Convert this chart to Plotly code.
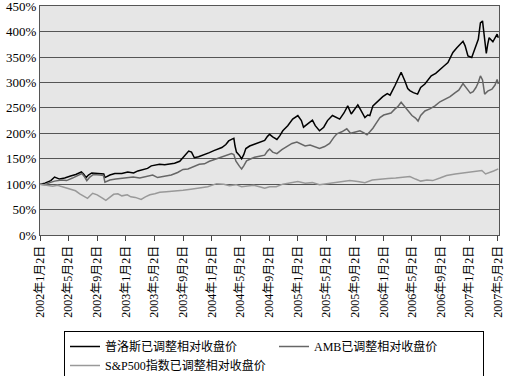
import plotly.graph_objects as go

# 普洛斯 (black)
prologis_dates = ["2002-01-02","2002-01-23","2002-02-17","2002-03-05","2002-03-26","2002-04-17","2002-05-12","2002-06-03","2002-06-27","2002-07-06","2002-07-17","2002-07-27","2002-08-10","2002-09-04","2002-09-30","2002-10-05","2002-10-26","2002-11-16","2002-12-16","2003-01-10","2003-02-04","2003-02-22","2003-03-14","2003-04-04","2003-04-20","2003-05-08","2003-05-25","2003-06-16","2003-07-07","2003-07-28","2003-08-19","2003-09-02","2003-09-14","2003-09-26","2003-10-08","2003-10-20","2003-11-07","2003-12-02","2003-12-23","2004-01-11","2004-01-30","2004-02-14","2004-03-02","2004-03-14","2004-03-26","2004-04-05","2004-04-10","2004-04-16","2004-04-28","2004-05-08","2004-05-17","2004-05-26","2004-06-11","2004-07-02","2004-07-23","2004-08-14","2004-08-26","2004-09-04","2004-09-17","2004-10-05","2004-10-17","2004-10-30","2004-11-20","2004-12-11","2005-01-02","2005-01-17","2005-01-26","2005-02-10","2005-02-23","2005-03-05","2005-03-17","2005-04-04","2005-04-22","2005-05-08","2005-05-29","2005-06-17","2005-06-29","2005-07-17","2005-08-02","2005-08-17","2005-09-02","2005-09-14","2005-09-26","2005-10-14","2005-10-26","2005-11-04","2005-11-17","2005-12-04","2005-12-17","2005-12-29","2006-01-17","2006-01-29","2006-02-19","2006-03-02","2006-03-17","2006-04-02","2006-04-14","2006-04-23","2006-05-08","2006-05-26","2006-06-08","2006-06-26","2006-07-08","2006-07-23","2006-08-11","2006-08-29","2006-09-14","2006-10-02","2006-10-14","2006-10-23","2006-11-08","2006-11-23","2006-12-05","2006-12-14","2006-12-26","2007-01-11","2007-01-26","2007-02-08","2007-02-17","2007-02-26","2007-03-02","2007-03-07","2007-03-14","2007-03-20","2007-03-26","2007-04-11","2007-04-17","2007-04-29","2007-05-04"]
prologis_vals = [100,102,107,114,110,112,116,119,124,120,113,118,122,121,120,113,118,121,121,124,122,126,129,131,136,137,139,138,140,141,145,152,160,165,163,152,154,158,162,166,169,172,178,185,188,190,175,163,157,150,158,170,175,179,182,186,194,198,193,188,195,205,215,228,235,225,212,218,222,226,215,205,212,225,235,230,228,240,254,238,248,256,246,231,236,235,254,262,267,272,278,275,294,305,320,303,288,284,280,277,290,297,305,313,318,326,332,339,350,359,368,375,381,372,352,349,368,385,417,421,405,385,357,375,388,380,385,395,388]

# AMB (dark gray)
amb_dates = ["2002-01-02","2002-01-23","2002-02-13","2002-03-05","2002-04-04","2002-04-25","2002-05-20","2002-06-11","2002-06-29","2002-07-11","2002-07-20","2002-08-02","2002-08-17","2002-09-14","2002-09-29","2002-10-05","2002-10-26","2002-11-20","2002-12-16","2003-01-10","2003-02-02","2003-03-02","2003-03-29","2003-04-26","2003-05-17","2003-06-16","2003-07-14","2003-08-10","2003-09-02","2003-09-23","2003-10-14","2003-11-10","2003-12-02","2003-12-23","2004-01-23","2004-02-14","2004-03-05","2004-03-26","2004-04-05","2004-04-14","2004-04-29","2004-05-08","2004-05-17","2004-05-29","2004-06-17","2004-07-02","2004-07-23","2004-08-14","2004-08-26","2004-09-04","2004-09-17","2004-10-05","2004-10-26","2004-11-17","2004-12-08","2004-12-29","2005-01-17","2005-02-02","2005-02-23","2005-03-14","2005-04-04","2005-04-26","2005-05-17","2005-06-04","2005-06-17","2005-07-08","2005-07-29","2005-08-14","2005-09-02","2005-09-23","2005-10-10","2005-10-23","2005-11-04","2005-11-17","2005-12-04","2005-12-17","2006-01-02","2006-01-20","2006-02-02","2006-02-19","2006-03-02","2006-03-17","2006-04-02","2006-04-14","2006-05-02","2006-05-17","2006-05-28","2006-06-08","2006-06-26","2006-07-17","2006-08-08","2006-08-29","2006-09-20","2006-10-11","2006-11-02","2006-11-17","2006-12-05","2006-12-17","2007-01-05","2007-01-17","2007-01-29","2007-02-08","2007-02-17","2007-02-26","2007-03-07","2007-03-20","2007-04-07","2007-04-20","2007-04-29","2007-05-04"]
amb_vals = [100,99,103,106,108,107,112,117,121,114,107,114,119,118,117,104,108,110,111,112,114,112,115,118,113,115,118,123,129,130,134,139,140,145,150,153,157,160,158,145,135,130,136,146,150,153,155,157,165,169,163,160,168,175,180,183,178,175,177,174,170,174,180,192,199,203,209,200,203,205,201,197,203,210,222,231,236,238,240,248,252,261,252,246,235,230,224,235,244,248,254,262,267,272,280,285,298,290,279,282,290,300,313,305,277,283,287,295,306,297]

# S&P500 (light gray)
sp_dates = ["2002-01-02","2002-01-23","2002-02-13","2002-02-25","2002-03-17","2002-04-08","2002-04-25","2002-05-17","2002-06-02","2002-06-20","2002-07-06","2002-07-23","2002-08-05","2002-08-14","2002-09-02","2002-09-14","2002-09-26","2002-10-09","2002-10-26","2002-11-11","2002-11-29","2002-12-16","2003-01-08","2003-01-23","2003-02-11","2003-02-26","2003-03-08","2003-03-26","2003-04-14","2003-05-05","2003-05-26","2003-06-23","2003-07-28","2003-09-02","2003-10-05","2003-11-10","2003-12-16","2004-01-23","2004-02-22","2004-03-17","2004-04-14","2004-05-08","2004-06-02","2004-06-29","2004-07-23","2004-08-14","2004-09-04","2004-10-02","2004-10-30","2004-11-29","2005-01-02","2005-02-02","2005-03-05","2005-04-04","2005-05-04","2005-06-08","2005-07-11","2005-08-11","2005-09-14","2005-10-14","2005-11-14","2005-12-17","2006-01-20","2006-02-22","2006-03-26","2006-04-23","2006-05-17","2006-06-08","2006-07-05","2006-07-29","2006-08-29","2006-09-26","2006-11-02","2006-12-05","2007-01-05","2007-02-08","2007-02-23","2007-03-11","2007-03-26","2007-04-14","2007-05-04"]
sp_vals = [100,99,97,96,98,95,92,90,87,81,76,72,78,82,79,76,72,68,75,80,81,77,79,75,74,72,70,75,79,81,84,85,86,88,90,92,95,101,100,97,99,95,97,98,95,92,95,95,100,103,105,102,103,99,101,104,106,107,105,103,108,110,111,112,113,115,110,106,108,107,112,117,120,122,123,126,127,120,122,126,130]

tick_dates = ["2002-01-02","2002-05-02","2002-09-02","2003-01-02","2003-05-02","2003-09-02","2004-01-02","2004-05-02","2004-09-02","2005-01-02","2005-05-02","2005-09-02","2006-01-02","2006-05-02","2006-09-02","2007-01-02","2007-05-02"]
tick_labels = ["2002年1月2日","2002年5月2日","2002年9月2日","2003年1月2日","2003年5月2日","2003年9月2日","2004年1月2日","2004年5月2日","2004年9月2日","2005年1月2日","2005年5月2日","2005年9月2日","2006年1月2日","2006年5月2日","2006年9月2日","2007年1月2日","2007年5月2日"]

y_ticks = [0, 50, 100, 150, 200, 250, 300, 350, 400, 450]

names = ["普洛斯已调整相对收盘价", "AMB已调整相对收盘价", "S&P500指数已调整相对收盘价"]

FONT = "Liberation Serif, Noto Sans CJK SC, serif"

fig = go.Figure()
fig.add_trace(go.Scatter(x=prologis_dates, y=prologis_vals, mode="lines", name=names[0],
                         line=dict(color="#000000", width=1.5)))
fig.add_trace(go.Scatter(x=amb_dates, y=amb_vals, mode="lines", name=names[1],
                         line=dict(color="#666666", width=1.5)))
fig.add_trace(go.Scatter(x=sp_dates, y=sp_vals, mode="lines", name=names[2],
                         line=dict(color="#999999", width=1.5)))

fig.update_layout(
    width=506, height=376,
    margin=dict(l=40, r=7, t=6, b=141, autoexpand=False),
    paper_bgcolor="white",
    plot_bgcolor="#e6e6e6",
    font=dict(family=FONT, size=13, color="#000000"),
    showlegend=True,
    legend=dict(orientation="h", x=(64 - 40) / 459, y=(235 - 331) / 229, xanchor="left", yanchor="top",
                bordercolor="#000000", borderwidth=1, bgcolor="white",
                entrywidth=164, entrywidthmode="pixels",
                font=dict(family=FONT, size=12), tracegroupgap=0),
    xaxis=dict(type="date", range=["2002-01-02", "2007-05-07"],
               tickmode="array", tickvals=tick_dates, ticktext=tick_labels,
               tickangle=-90, ticks="outside", ticklen=5, tickcolor="#444",
               showgrid=False, showline=True, mirror=True, linecolor="#555", linewidth=1,
               automargin=False, ticklabeloverflow="allow",
               tickfont=dict(family=FONT, size=12)),
    yaxis=dict(range=[0, 450.4], tickmode="array", tickvals=y_ticks,
               ticktext=[f"{v}%" for v in y_ticks],
               showgrid=True, gridcolor="#555555", gridwidth=1,
               showline=True, mirror=True, linecolor="#555", linewidth=1,
               zeroline=False, ticks="", automargin=False, ticklabeloverflow="allow",
               tickfont=dict(family=FONT, size=13)),
)

fig.write_html("out.html", config={"displayModeBar": False},
               post_script="document.body.style.margin='0px';document.body.style.overflow='hidden';")
